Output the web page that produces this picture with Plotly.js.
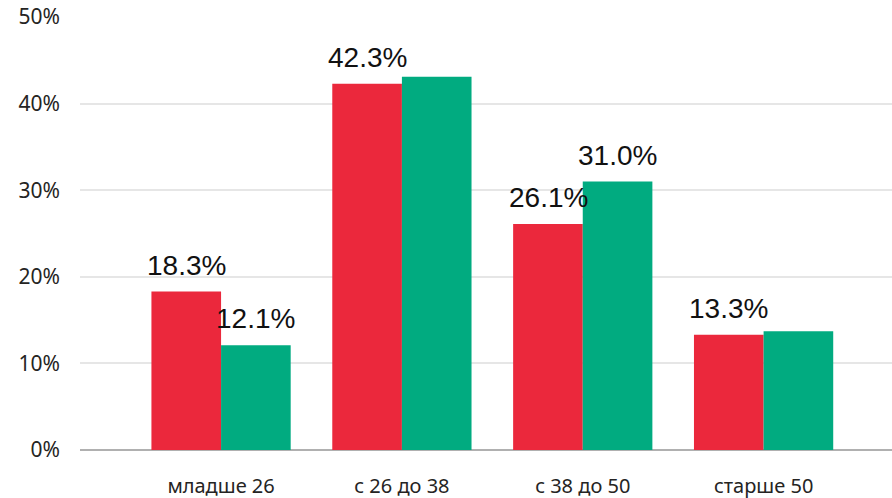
<!DOCTYPE html>
<html>
<head>
<meta charset="utf-8">
<script src="https://cdn.plot.ly/plotly-3.0.1.min.js"></script>
<style>html,body{margin:0;padding:0;background:#fff;}#chart{width:892px;height:498px;}</style>
</head>
<body>
<div id="chart"></div>
<script>
const categories = ["младше 26", "с 26 до 38", "с 38 до 50", "старше 50"];
const redValues = [18.3, 42.3, 26.1, 13.3];
const greenValues = [12.1, 43.1, 31.0, 13.7];
const redShowLabel = [true, true, true, true];
const greenShowLabel = [true, false, true, false];
const yTicks = [0, 10, 20, 30, 40, 50];
const yTickLabels = ["0%", "10%", "20%", "30%", "40%", "50%"];

const RED = "#EB283C";
const GREEN = "#01AB80";

const traces = [
  {type: "bar", x: categories, y: redValues, marker: {color: RED}, name: "A", hoverinfo: "none"},
  {type: "bar", x: categories, y: greenValues, marker: {color: GREEN}, name: "B", hoverinfo: "none"}
];

const annotations = [];
function addLabels(vals, show, shift) {
  vals.forEach((v, i) => {
    if (!show[i]) return;
    annotations.push({
      x: categories[i], y: v, xref: "x", yref: "y",
      text: v.toFixed(1) + "%", showarrow: false,
      xanchor: "center", yanchor: "bottom", xshift: shift, yshift: 9,
      font: {family: "Liberation Sans, Arial, sans-serif", size: 28, color: "#111"}
    });
  });
}
addLabels(redValues, redShowLabel, -34.75);
addLabels(greenValues, greenShowLabel, 34.75);

const layout = {
  width: 892, height: 498,
  margin: {l: 80, r: 0, t: 17, b: 48, pad: 0},
  paper_bgcolor: "#fff", plot_bgcolor: "#fff",
  showlegend: false,
  barmode: "group", bargap: 0.23, bargroupgap: 0,
  font: {family: "Noto Sans, Open Sans, sans-serif", color: "#252423"},
  xaxis: {
    type: "category", range: [-0.78, 3.71],
    showgrid: false, zeroline: false,
    showline: false, ticks: "", ticklabelstandoff: 22,
    tickfont: {size: 20, color: "#252423"}
  },
  yaxis: {
    range: [0, 50], tickvals: yTicks, ticktext: yTickLabels,
    showgrid: true, gridcolor: "#E6E6E6", gridwidth: 2,
    zeroline: true, zerolinecolor: "#B0B0B0", zerolinewidth: 2,
    showline: false, ticks: "", ticklabelstandoff: 19,
    tickfont: {size: 21, color: "#252423"}
  },
  annotations: annotations
};

Plotly.newPlot("chart", traces, layout, {displayModeBar: false, staticPlot: true});
</script>
</body>
</html>
